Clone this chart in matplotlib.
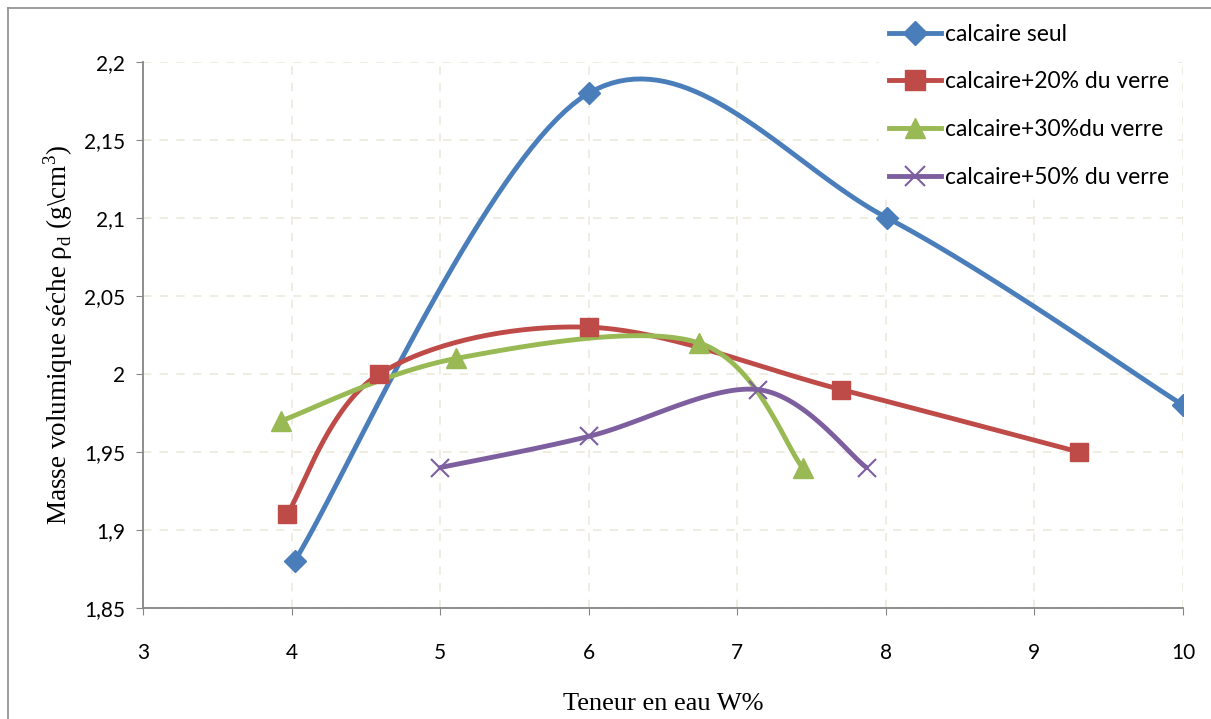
import numpy as np
import matplotlib
matplotlib.use("Agg")
import matplotlib.pyplot as plt
from matplotlib.lines import Line2D

# Données
w_seul = [4.02, 6.0, 8.01, 10.0]
rho_seul = [1.88, 2.18, 2.10, 1.98]

w_20 = [3.97, 4.59, 6.0, 7.70, 9.30]
rho_20 = [1.91, 2.00, 2.03, 1.99, 1.95]

w_30 = [3.93, 5.11, 6.74, 7.44]
rho_30 = [1.97, 2.01, 2.02, 1.94]

w_50 = [5.0, 6.0, 7.14, 7.87]
rho_50 = [1.94, 1.96, 1.99, 1.94]

labels = ["calcaire seul", "calcaire+20% du verre",
          "calcaire+30%du verre", "calcaire+50% du verre"]


def lissage(x, y, n=40):
    # courbe lissée type Excel (Bezier / Catmull-Rom)
    p = np.column_stack([x, y]).astype(float)
    ext = np.vstack([p[0], p, p[-1]])
    xs, ys = [], []
    t = np.linspace(0, 1, n)
    for i in range(1, len(ext) - 2):
        p0, p1, p2, p3 = ext[i - 1], ext[i], ext[i + 1], ext[i + 2]
        c1 = p1 + (p2 - p0) / 6
        c2 = p2 - (p3 - p1) / 6
        b = ((1 - t) ** 3)[:, None] * p1 + (3 * (1 - t) ** 2 * t)[:, None] * c1 \
            + (3 * (1 - t) * t ** 2)[:, None] * c2 + (t ** 3)[:, None] * p2
        xs.extend(b[:, 0])
        ys.extend(b[:, 1])
    return np.array(xs), np.array(ys)


series = [
    (w_seul, rho_seul, "#4A7EBB", "D", 11, 1.0),
    (w_20, rho_20, "#BE4B48", "s", 13, 1.0),
    (w_30, rho_30, "#98B954", "^", 14, 1.0),
    (w_50, rho_50, "#7D5FA0", "x", 13, 1.5),
]

fig = plt.figure(figsize=(12.11, 7.19), dpi=100)
ax = fig.add_axes([143 / 1211, 1 - 608 / 719, (1183 - 143) / 1211, (608 - 62) / 719])

# cadre du graphique
fig.add_artist(Line2D([8 / 1211, 8 / 1211], [0, 1 - 8 / 719], color="#8c8c8c", lw=1.2))
fig.add_artist(Line2D([8 / 1211, 1], [1 - 8 / 719, 1 - 8 / 719], color="#8c8c8c", lw=1.2))

handles = []
for (x, y, col, mk, ms, mew), lab in zip(series, labels):
    xs, ys = lissage(x, y)
    ax.plot(xs, ys, color=col, lw=3.5, solid_capstyle="round", zorder=3)
    ax.plot(x, y, linestyle="none", marker=mk, color=col, markersize=ms,
            markeredgewidth=mew, zorder=4)
    handles.append(Line2D([], [], color=col, lw=3.5, marker=mk, markersize=ms + 1,
                          markeredgewidth=mew))

ax.set_xlim(3, 10)
ax.set_ylim(1.85, 2.2)
ax.set_xticks(range(3, 11))
ax.set_yticks([1.85, 1.9, 1.95, 2.0, 2.05, 2.1, 2.15, 2.2])
ax.set_yticklabels(["1,85", "1,9", "1,95", "2", "2,05", "2,1", "2,15", "2,2"])

ax.grid(True, color="#ECE9DC", linestyle=(0, (5, 5)), lw=1.2)
ax.set_axisbelow(True)
for s in ["top", "right"]:
    ax.spines[s].set_visible(False)
for s in ["left", "bottom"]:
    ax.spines[s].set_color("#868686")
    ax.spines[s].set_linewidth(1.3)
ax.tick_params(direction="out", length=5, color="#868686", labelsize=15,
               pad=8)
for lbl in ax.get_xticklabels() + ax.get_yticklabels():
    lbl.set_family("Lato")
ax.tick_params(axis="x", pad=20)

ax.set_xlabel("Teneur en eau W%", family="Liberation Serif", fontsize=19, labelpad=22)
ax.set_ylabel("Masse volumique séche ρ$_\\mathregular{d}$ (g\\cm$^\\mathregular{3}$)",
              family="Liberation Serif", fontsize=19.5, labelpad=6)

leg = fig.legend(handles, labels, loc="upper left", bbox_to_anchor=(868 / 1211, 1 - 3 / 719),
                 frameon=True, framealpha=1, edgecolor="white", fancybox=False,
                 prop={"family": "Lato", "size": 16.5}, handlelength=2.3,
                 labelspacing=1.17, handletextpad=0.15, borderpad=0.4)
leg.get_frame().set_linewidth(0)

fig.savefig("out.png", dpi=100)
